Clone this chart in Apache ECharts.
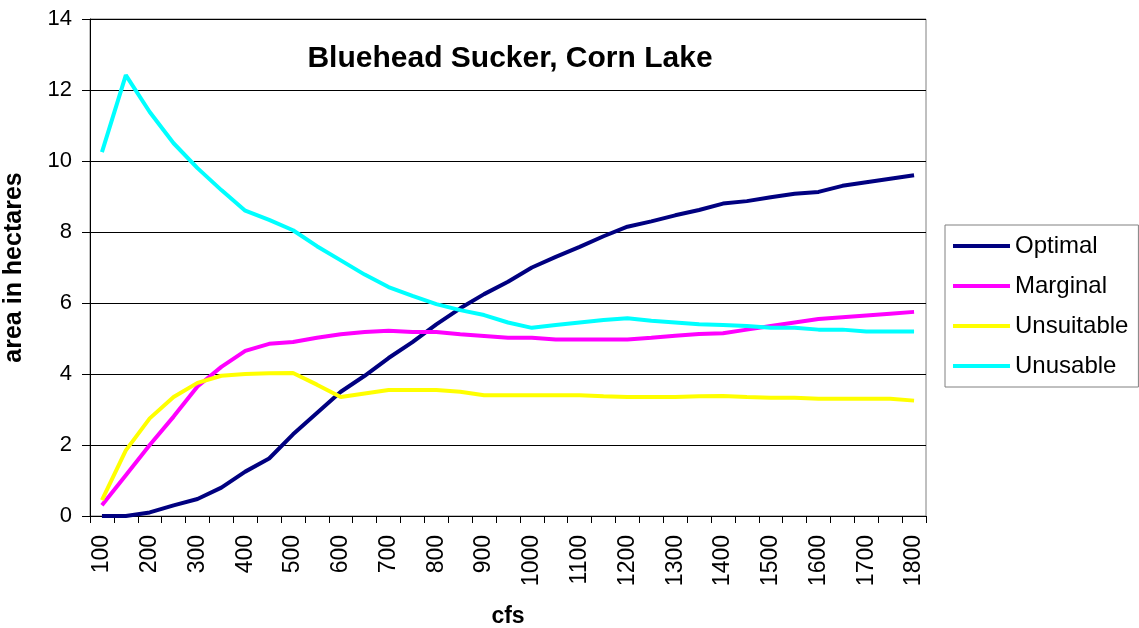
<!DOCTYPE html>
<html>
<head>
  <meta charset="utf-8">
</head>
<body style="margin: 0; width: 1139px; height: 628px; background: #fff;">
  <div id="container" style="width: 1139px; height: 628px;"></div>
  <script type="text/javascript" src="https://cdn.jsdelivr.net/npm/echarts@6/dist/echarts.min.js"></script>
  <script type="text/javascript">
    // flow (cfs), every 50 from 100 to 1800
    var cfs = ['100', '150', '200', '250', '300', '350', '400', '450', '500', '550',
      '600', '650', '700', '750', '800', '850', '900', '950', '1000', '1050',
      '1100', '1150', '1200', '1250', '1300', '1350', '1400', '1450', '1500', '1550',
      '1600', '1650', '1700', '1750', '1800'];

    var optimal = [0, 0, 0.1, 0.3, 0.48, 0.8, 1.25, 1.62, 2.3, 2.9,
      3.5, 3.95, 4.45, 4.9, 5.4, 5.85, 6.25, 6.6, 7.0, 7.3,
      7.58, 7.88, 8.15, 8.3, 8.47, 8.62, 8.8, 8.87, 8.98, 9.08,
      9.13, 9.3, 9.4, 9.5, 9.6];

    var marginal = [0.3, 1.15, 2.0, 2.8, 3.65, 4.2, 4.65, 4.85, 4.9, 5.02,
      5.12, 5.18, 5.22, 5.18, 5.18, 5.12, 5.07, 5.02, 5.02, 4.97,
      4.97, 4.97, 4.97, 5.02, 5.08, 5.13, 5.15, 5.25, 5.35, 5.45,
      5.55, 5.6, 5.65, 5.7, 5.75];

    var unsuitable = [0.45, 1.85, 2.75, 3.35, 3.75, 3.95, 4.0, 4.02, 4.03, 3.7,
      3.35, 3.45, 3.55, 3.55, 3.55, 3.5, 3.4, 3.4, 3.4, 3.4,
      3.4, 3.37, 3.35, 3.35, 3.35, 3.37, 3.38, 3.35, 3.33, 3.33,
      3.3, 3.3, 3.3, 3.3, 3.25];

    var unusable = [10.25, 12.42, 11.38, 10.5, 9.8, 9.18, 8.6, 8.34, 8.05, 7.6,
      7.2, 6.8, 6.45, 6.2, 5.97, 5.8, 5.66, 5.45, 5.3, 5.38,
      5.45, 5.52, 5.57, 5.5, 5.45, 5.4, 5.38, 5.35, 5.3, 5.3,
      5.25, 5.25, 5.2, 5.2, 5.2];

    var font = 'Liberation Sans, Arial, sans-serif';

    var myChart = echarts.init(document.getElementById('container'), null, {
      renderer: 'canvas'
    });

    function line(name, data, color) {
      return {
        name: name,
        type: 'line',
        data: data,
        symbol: 'none',
        lineStyle: { color: color, width: 4 },
        itemStyle: { color: color },
        animation: false
      };
    }

    var option = {
      animation: false,
      grid: {
        left: 90,
        right: 213,
        top: 19,
        bottom: 112,
        containLabel: false,
        outerBoundsMode: 'none',
        show: true,
        borderColor: '#808080',
        borderWidth: 1
      },
      graphic: [{
        type: 'text',
        x: 510,
        y: 59,
        style: {
          text: 'Bluehead Sucker, Corn Lake',
          font: 'bold 30px ' + font,
          fill: '#000',
          textAlign: 'center',
          textVerticalAlign: 'middle'
        }
      }],
      legend: {
        orient: 'vertical',
        left: 945,
        top: 225,
        icon: 'rect',
        itemWidth: 57,
        itemHeight: 4,
        itemGap: 16,
        padding: [9, 10, 9, 8],
        borderColor: '#808080',
        borderWidth: 1,
        textStyle: { fontFamily: font, fontSize: 24, color: '#000' },
        data: ['Optimal', 'Marginal', 'Unsuitable', 'Unusable']
      },
      xAxis: {
        type: 'category',
        data: cfs,
        boundaryGap: true,
        name: 'cfs',
        nameLocation: 'middle',
        nameGap: 89,
        nameTextStyle: { fontFamily: font, fontSize: 23, fontWeight: 'bold', color: '#000' },
        axisLine: { lineStyle: { color: '#000', width: 1 } },
        axisTick: { show: true, interval: 0, length: 7, lineStyle: { color: '#000' } },
        axisLabel: {
          interval: 1,
          rotate: 90,
          margin: 19,
          fontFamily: font,
          fontSize: 23,
          color: '#000'
        },
        splitLine: { show: false }
      },
      yAxis: {
        type: 'value',
        min: 0,
        max: 14,
        interval: 2,
        name: 'area in hectares',
        nameLocation: 'middle',
        nameGap: 63,
        nameTextStyle: { fontFamily: font, fontSize: 25, fontWeight: 'bold', color: '#000' },
        axisLine: { show: true, lineStyle: { color: '#000', width: 1 } },
        axisTick: { show: true, length: 8, lineStyle: { color: '#000' } },
        axisLabel: { margin: 18, fontFamily: font, fontSize: 22, color: '#000' },
        splitLine: { show: true, lineStyle: { color: '#000', width: 1 } }
      },
      series: [
        line('Optimal', optimal, '#000080'),
        line('Marginal', marginal, '#FF00FF'),
        line('Unsuitable', unsuitable, '#FFFF00'),
        line('Unusable', unusable, '#00FFFF')
      ]
    };

    myChart.setOption(option);
  </script>
</body>
</html>
